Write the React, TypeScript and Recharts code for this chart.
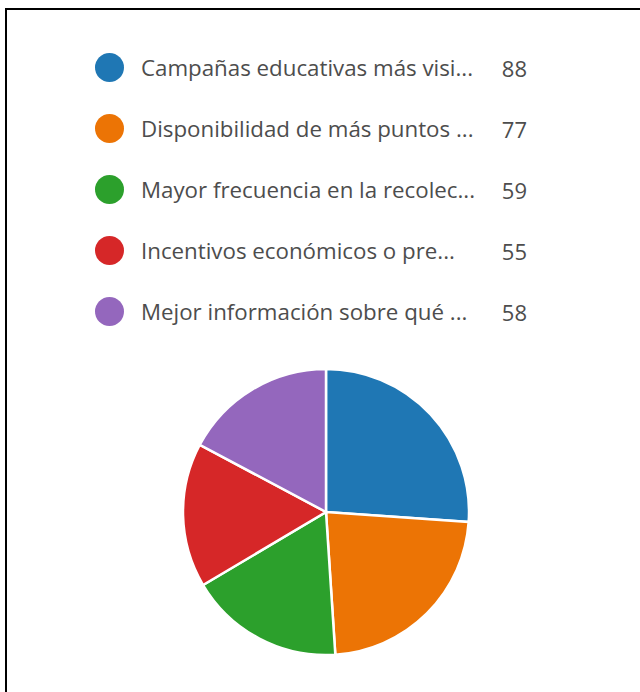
import React from "react";
import { PieChart, Pie, Cell } from "recharts";

const categories = [
  "Campañas educativas más visi...",
  "Disponibilidad de más puntos ...",
  "Mayor frecuencia en la recolec...",
  "Incentivos económicos o pre...",
  "Mejor información sobre qué ...",
];
const values = [88, 77, 59, 55, 58];
const colors = ["#1f77b4", "#ec7405", "#2ca02c", "#d62728", "#9467bd"];

const data = categories.map((name, i) => ({ name, value: values[i], color: colors[i] }));

const FONT = "'Open Sans', 'Noto Sans', sans-serif";

const LegendBlock = () => (
  <div style={{ position: "absolute", left: 95, top: 37, fontFamily: FONT }}>
    {data.map((d) => (
      <div key={d.name} style={{ display: "flex", alignItems: "center", height: 61 }}>
        <div
          style={{
            width: 29,
            height: 29,
            borderRadius: "50%",
            background: d.color,
            flex: "none",
          }}
        />
        <div
          style={{
            marginLeft: 17,
            width: 340,
            fontSize: 22.3,
            color: "#4d4d4d",
            whiteSpace: "nowrap",
          }}
        >
          {d.name}
        </div>
        <div style={{ width: 46, textAlign: "right", fontSize: 22, color: "#4d4d4d" }}>
          {d.value}
        </div>
      </div>
    ))}
  </div>
);

export default function App() {
  return (
    <div
      style={{
        position: "absolute",
        left: 0,
        top: 0,
        width: 640,
        height: 692,
        background: "#fff",
        overflow: "hidden",
      }}
    >
      <div
        style={{
          position: "absolute",
          left: 5,
          top: 8,
          width: 660,
          height: 720,
          borderTop: "2px solid #000",
          borderLeft: "2px solid #000",
        }}
      />
      <LegendBlock />
      <div style={{ position: "absolute", left: 0, top: 0 }}>
        <PieChart width={640} height={692} margin={{ top: 0, right: 0, bottom: 0, left: 0 }}>
          <Pie
            data={data}
            dataKey="value"
            nameKey="name"
            cx={326}
            cy={512}
            outerRadius={143}
            startAngle={90}
            endAngle={-270}
            stroke="#fff"
            strokeWidth={2.5}
            isAnimationActive={false}
          >
            {data.map((d) => (
              <Cell key={d.name} fill={d.color} />
            ))}
          </Pie>
        </PieChart>
      </div>
    </div>
  );
}
